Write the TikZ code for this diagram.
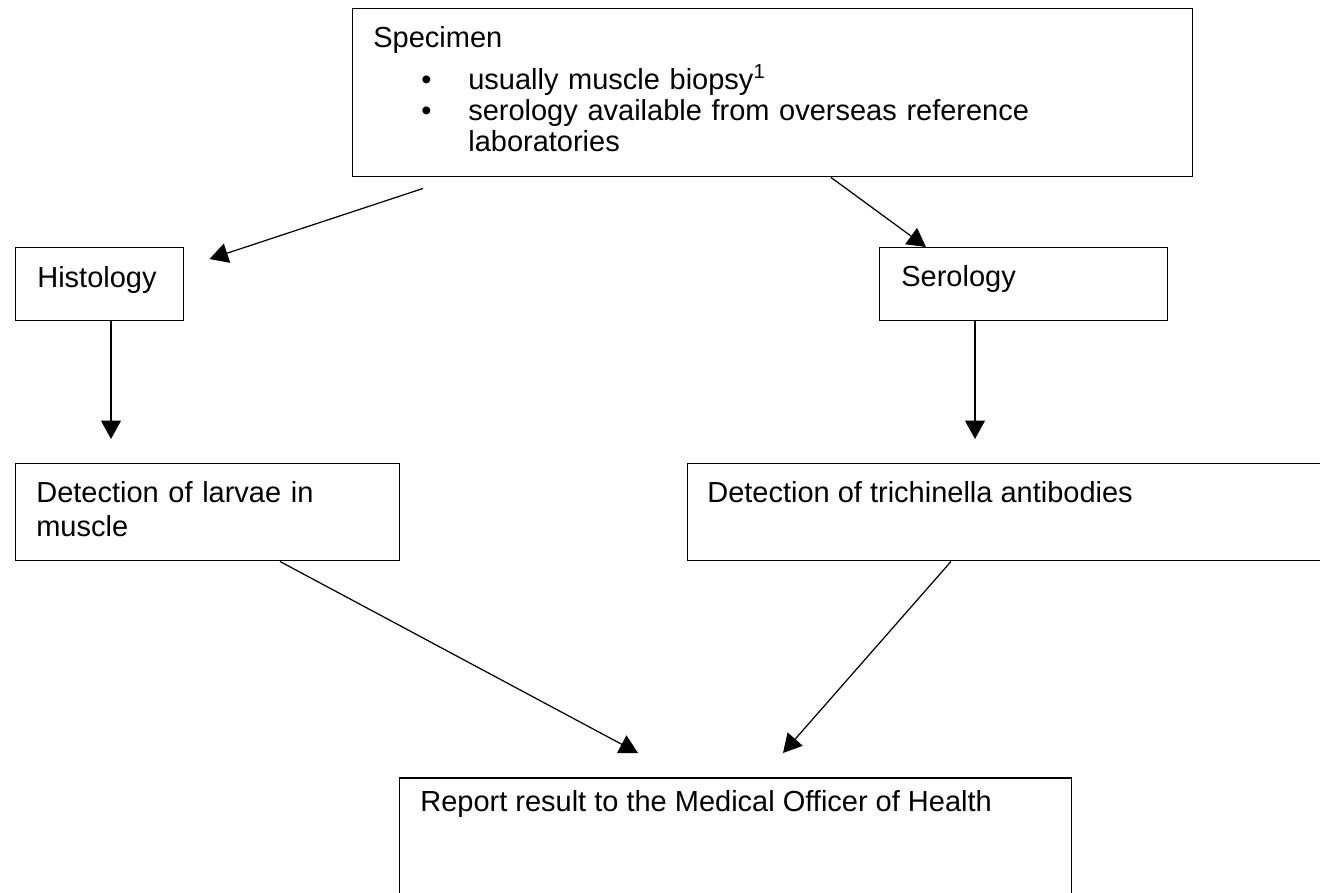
\documentclass[tikz,border=0pt]{standalone}
\usepackage{fontspec}
\setmainfont{Liberation Sans}
\usetikzlibrary{positioning,arrows.meta,calc}

\tikzset{
  flowbox/.style={draw, line width=0.85pt, anchor=north west, inner sep=0pt},
  boxtext/.style={anchor=base west, inner sep=0pt, align=left},
  flowarrow/.style={line width=0.7pt, -{Triangle[length=0.37cm, width=0.4cm]}}
}
\newcommand{\bulletitem}{\hspace*{0.96cm}\makebox[0.94cm][l]{\textbullet}}

\begin{document}
\begin{tikzpicture}[x=0.02cm, y=-0.02cm, font=\fontsize{16.5}{19.4}\selectfont]
  \useasboundingbox (0,0) rectangle (1320,893);
  \clip (0,0) rectangle (1320,893);

  % Boxes
  \node[flowbox, minimum width=16.8cm, minimum height=3.36cm] (spec) at (352,8) {};
  \node[flowbox, minimum width=3.36cm, minimum height=1.46cm] (histo) at (15,247) {};
  \node[flowbox, minimum width=5.76cm, minimum height=1.46cm] (sero) at (879,247) {};
  \node[flowbox, minimum width=7.68cm, minimum height=1.94cm] (larvae) at (15,463) {};
  \node[flowbox, minimum width=14cm, minimum height=1.94cm] (trich) at (687,463) {};
  \node[flowbox, minimum width=13.44cm, minimum height=4cm] (report) at (399,777) {};

  % Texts
  \node[boxtext, text width=16cm, font=\fontsize{16.5}{17.6}\selectfont] (specT) at (373,47) {Specimen\\[0.19cm]
    \bulletitem usually muscle biopsy\textsuperscript{1}\\
    \bulletitem serology available from overseas reference\\
    \hspace*{1.9cm}laboratories};
  \node[boxtext] (histoT) at (37,287) {Histology};
  \node[boxtext] (seroT) at (901,286) {Serology};
  \node[boxtext, text width=7cm] (larvaeT) at (36,502) {Detection of larvae in\\ muscle};
  \node[boxtext] (trichT) at (707,502) {Detection of trichinella antibodies};
  \node[boxtext] (reportT) at (420,811) {Report result to the Medical Officer of Health};

  % Arrows
  \draw[flowarrow] ($(spec.south west)+(71,11)$) -- ($(histo.north east)+(25,12)$);
  \draw[flowarrow] ($(spec.south west)+(479,0)$) -- ($(sero.north west)+(47,0)$);
  \draw[flowarrow] ($(histo.south west)+(96,0)$) -- ($(larvae.north west)+(96,-24)$);
  \draw[flowarrow] ($(sero.south west)+(96,0)$) -- ($(trich.north west)+(288,-24)$);
  \draw[flowarrow] ($(larvae.south west)+(265,0)$) -- ($(report.north west)+(239,-24)$);
  \draw[flowarrow] ($(trich.south west)+(264,0)$) -- ($(report.north west)+(384,-24)$);
\end{tikzpicture}
\end{document}
